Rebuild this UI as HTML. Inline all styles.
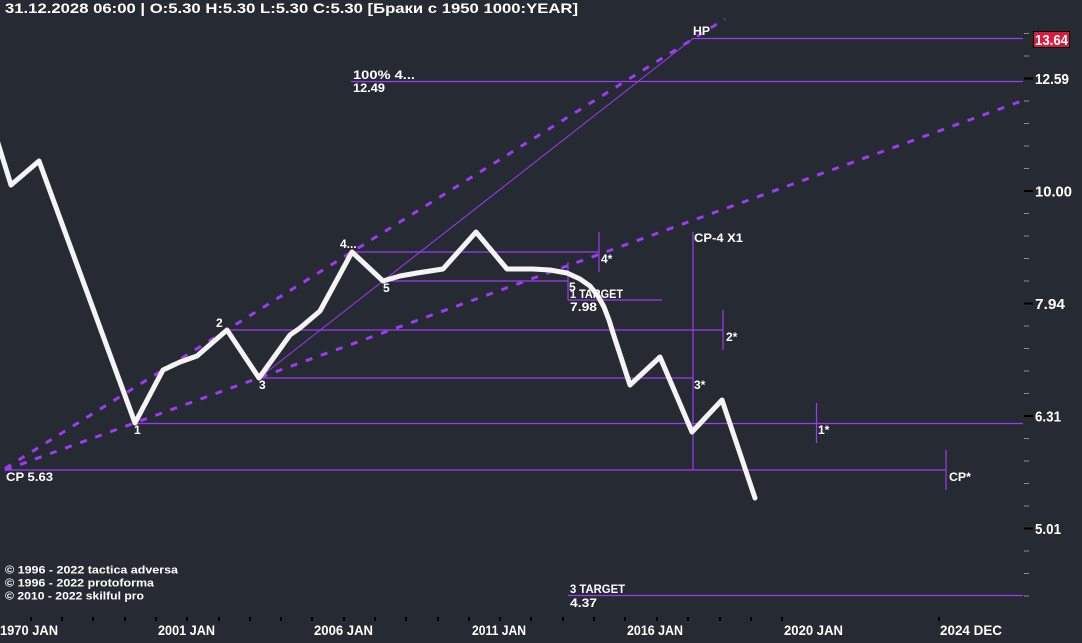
<!DOCTYPE html>
<html><head><meta charset="utf-8"><style>
html,body{margin:0;padding:0;background:#262a33;}
svg{display:block;}
text{font-family:"Liberation Sans","Noto Sans CJK SC",sans-serif;font-weight:bold;fill:#fff;}
</style></head><body>
<svg width="1082" height="643" viewBox="0 0 1082 643" xmlns="http://www.w3.org/2000/svg">
<rect x="0" y="0" width="1082" height="643" fill="#262a33"/>

<!-- header -->
<text x="5" y="13" font-size="14" textLength="573" lengthAdjust="spacingAndGlyphs">31.12.2028 06:00 | O:5.30 H:5.30 L:5.30 C:5.30  [Браки с 1950 1000:YEAR]</text>

<!-- dashed trend lines -->
<line x1="5" y1="468.5" x2="725" y2="19" stroke="#9b3cf0" stroke-width="3" stroke-dasharray="7 9"/>
<line x1="5" y1="470" x2="1023" y2="100.5" stroke="#9b3cf0" stroke-width="3" stroke-dasharray="7 9"/>

<!-- thin diagonal -->
<line x1="259" y1="378" x2="693" y2="38.5" stroke="#9b3cf0" stroke-width="1"/>

<!-- horizontal level lines -->
<g stroke="#9b3cf0" stroke-width="1.2" fill="none">
<line x1="693" y1="38.5" x2="1023" y2="38.5"/>
<line x1="351" y1="81.5" x2="1023" y2="81.5"/>
<line x1="352" y1="252" x2="599" y2="252"/>
<line x1="383" y1="281" x2="568" y2="281"/>
<line x1="568" y1="300" x2="662" y2="300"/>
<line x1="227" y1="330" x2="723" y2="330"/>
<line x1="259" y1="378" x2="693" y2="378"/>
<line x1="135" y1="423.5" x2="1023" y2="423.5"/>
<line x1="5" y1="470" x2="946" y2="470"/>
<line x1="568" y1="595.5" x2="1023" y2="595.5"/>
<!-- verticals -->
<line x1="693" y1="232" x2="693" y2="470"/>
<line x1="599" y1="232" x2="599" y2="272"/>
<line x1="568" y1="262" x2="568" y2="300"/>
<line x1="723" y1="310" x2="723" y2="350"/>
<line x1="816.5" y1="403" x2="816.5" y2="443"/>
<line x1="946" y1="450" x2="946" y2="490"/>
</g>

<!-- main series -->
<polyline fill="none" stroke="#f4f4f4" stroke-width="5" stroke-linejoin="round" stroke-linecap="round"
points="-3,140 11,185 39,161 135,423 163,370 180,362 197,356 227,330 259,378 290,335 300,328 320,311 352,252 383,281 400,276 417,273 443,269 476,232 507,269 533,269 550,270 567,273 580,279 590,286 598,296 604,307 609,320 613,333 630,385 660,357 692,432 722,400 755,498"/>

<!-- point labels -->
<g font-size="12">
<text x="134" y="434">1</text>
<text x="216" y="327">2</text>
<text x="259" y="389">3</text>
<text x="340" y="248">4...</text>
<text x="383" y="292">5</text>
<text x="569" y="291">5</text>
<text x="570" y="298" textLength="53" lengthAdjust="spacingAndGlyphs">1 TARGET</text>
<text x="570" y="311" textLength="27" lengthAdjust="spacingAndGlyphs">7.98</text>
<text x="694" y="242" textLength="49" lengthAdjust="spacingAndGlyphs">CP-4 X1</text>
<text x="601" y="263">4*</text>
<text x="726" y="341">2*</text>
<text x="694" y="389">3*</text>
<text x="818" y="434">1*</text>
<text x="949" y="481" textLength="22" lengthAdjust="spacingAndGlyphs">CP*</text>
<text x="6" y="481" textLength="47" lengthAdjust="spacingAndGlyphs">CP 5.63</text>
<text x="693" y="35" textLength="17" lengthAdjust="spacingAndGlyphs">HP</text>
<text x="353" y="79" textLength="62" lengthAdjust="spacingAndGlyphs">100%  4...</text>
<text x="353" y="92" textLength="32" lengthAdjust="spacingAndGlyphs">12.49</text>
<text x="570" y="593" textLength="55" lengthAdjust="spacingAndGlyphs">3 TARGET</text>
<text x="570" y="607" textLength="27" lengthAdjust="spacingAndGlyphs">4.37</text>
</g>

<!-- right axis ticks -->
<g stroke="#8a8d94" stroke-width="1">
<line x1="1024" y1="33.5" x2="1029" y2="33.5"/>
<line x1="1024" y1="56" x2="1029" y2="56"/>
<line x1="1024" y1="101" x2="1029" y2="101"/>
<line x1="1024" y1="123.5" x2="1029" y2="123.5"/>
<line x1="1024" y1="146" x2="1029" y2="146"/>
<line x1="1024" y1="168.5" x2="1029" y2="168.5"/>
<line x1="1024" y1="213.5" x2="1029" y2="213.5"/>
<line x1="1024" y1="236" x2="1029" y2="236"/>
<line x1="1024" y1="258.5" x2="1029" y2="258.5"/>
<line x1="1024" y1="281" x2="1029" y2="281"/>
<line x1="1024" y1="326" x2="1029" y2="326"/>
<line x1="1024" y1="348.5" x2="1029" y2="348.5"/>
<line x1="1024" y1="371" x2="1029" y2="371"/>
<line x1="1024" y1="393.5" x2="1029" y2="393.5"/>
<line x1="1024" y1="438.5" x2="1029" y2="438.5"/>
<line x1="1024" y1="461" x2="1029" y2="461"/>
<line x1="1024" y1="483.5" x2="1029" y2="483.5"/>
<line x1="1024" y1="506" x2="1029" y2="506"/>
<line x1="1024" y1="551" x2="1029" y2="551"/>
<line x1="1024" y1="573.5" x2="1029" y2="573.5"/>
<line x1="1024" y1="596" x2="1029" y2="596"/>
</g>
<g stroke="#000" stroke-width="2">
<line x1="1024" y1="78.5" x2="1033" y2="78.5"/>
<line x1="1024" y1="191" x2="1033" y2="191"/>
<line x1="1024" y1="303.5" x2="1033" y2="303.5"/>
<line x1="1024" y1="416" x2="1033" y2="416"/>
<line x1="1024" y1="528.5" x2="1033" y2="528.5"/>
</g>
<g font-size="15">
<text x="1035" y="84" textLength="34" lengthAdjust="spacingAndGlyphs">12.59</text>
<text x="1035" y="196.5" textLength="37" lengthAdjust="spacingAndGlyphs">10.00</text>
<text x="1035" y="309" textLength="30" lengthAdjust="spacingAndGlyphs">7.94</text>
<text x="1035" y="421.5" textLength="26" lengthAdjust="spacingAndGlyphs">6.31</text>
<text x="1035" y="534" textLength="26" lengthAdjust="spacingAndGlyphs">5.01</text>
</g>
<rect x="1033.5" y="31.5" width="36" height="16" fill="#dc1a3c" stroke="#000" stroke-width="1"/>
<text x="1035" y="45" font-size="15" textLength="33" lengthAdjust="spacingAndGlyphs">13.64</text>

<!-- copyright -->
<g font-size="11" fill="#f0f0f0">
<text x="5" y="573.5" textLength="173" lengthAdjust="spacingAndGlyphs">© 1996 - 2022 tactica adversa</text>
<text x="5" y="586.5" textLength="149" lengthAdjust="spacingAndGlyphs">© 1996 - 2022 protoforma</text>
<text x="5" y="599.5" textLength="139" lengthAdjust="spacingAndGlyphs">© 2010 - 2022 skilful pro</text>
</g>

<!-- bottom axis ticks -->
<g stroke="#000" stroke-width="2">
<line x1="31" y1="617" x2="31" y2="621"/><line x1="62" y1="617" x2="62" y2="621"/><line x1="93" y1="617" x2="93" y2="621"/><line x1="125" y1="617" x2="125" y2="621"/><line x1="156" y1="617" x2="156" y2="621"/><line x1="187" y1="617" x2="187" y2="621"/><line x1="219" y1="617" x2="219" y2="621"/><line x1="250" y1="617" x2="250" y2="621"/><line x1="281" y1="617" x2="281" y2="621"/><line x1="312" y1="617" x2="312" y2="621"/><line x1="344" y1="617" x2="344" y2="621"/><line x1="375" y1="617" x2="375" y2="621"/><line x1="406" y1="617" x2="406" y2="621"/><line x1="438" y1="617" x2="438" y2="621"/><line x1="469" y1="617" x2="469" y2="621"/><line x1="500" y1="617" x2="500" y2="621"/><line x1="531" y1="617" x2="531" y2="621"/><line x1="563" y1="617" x2="563" y2="621"/><line x1="594" y1="617" x2="594" y2="621"/><line x1="625" y1="617" x2="625" y2="621"/><line x1="657" y1="617" x2="657" y2="621"/><line x1="688" y1="617" x2="688" y2="621"/><line x1="720" y1="617" x2="720" y2="621"/><line x1="751" y1="617" x2="751" y2="621"/><line x1="782" y1="617" x2="782" y2="621"/><line x1="939" y1="617" x2="939" y2="621"/>
</g>
<g font-size="14">
<text x="0" y="635" textLength="58" lengthAdjust="spacingAndGlyphs">1970 JAN</text>
<text x="158" y="635" textLength="57" lengthAdjust="spacingAndGlyphs">2001 JAN</text>
<text x="314" y="635" textLength="59" lengthAdjust="spacingAndGlyphs">2006 JAN</text>
<text x="472" y="635" textLength="54" lengthAdjust="spacingAndGlyphs">2011 JAN</text>
<text x="627" y="635" textLength="56" lengthAdjust="spacingAndGlyphs">2016 JAN</text>
<text x="784" y="635" textLength="59" lengthAdjust="spacingAndGlyphs">2020 JAN</text>
<text x="940" y="635" textLength="62" lengthAdjust="spacingAndGlyphs">2024 DEC</text>
</g>
</svg>
</body></html>
